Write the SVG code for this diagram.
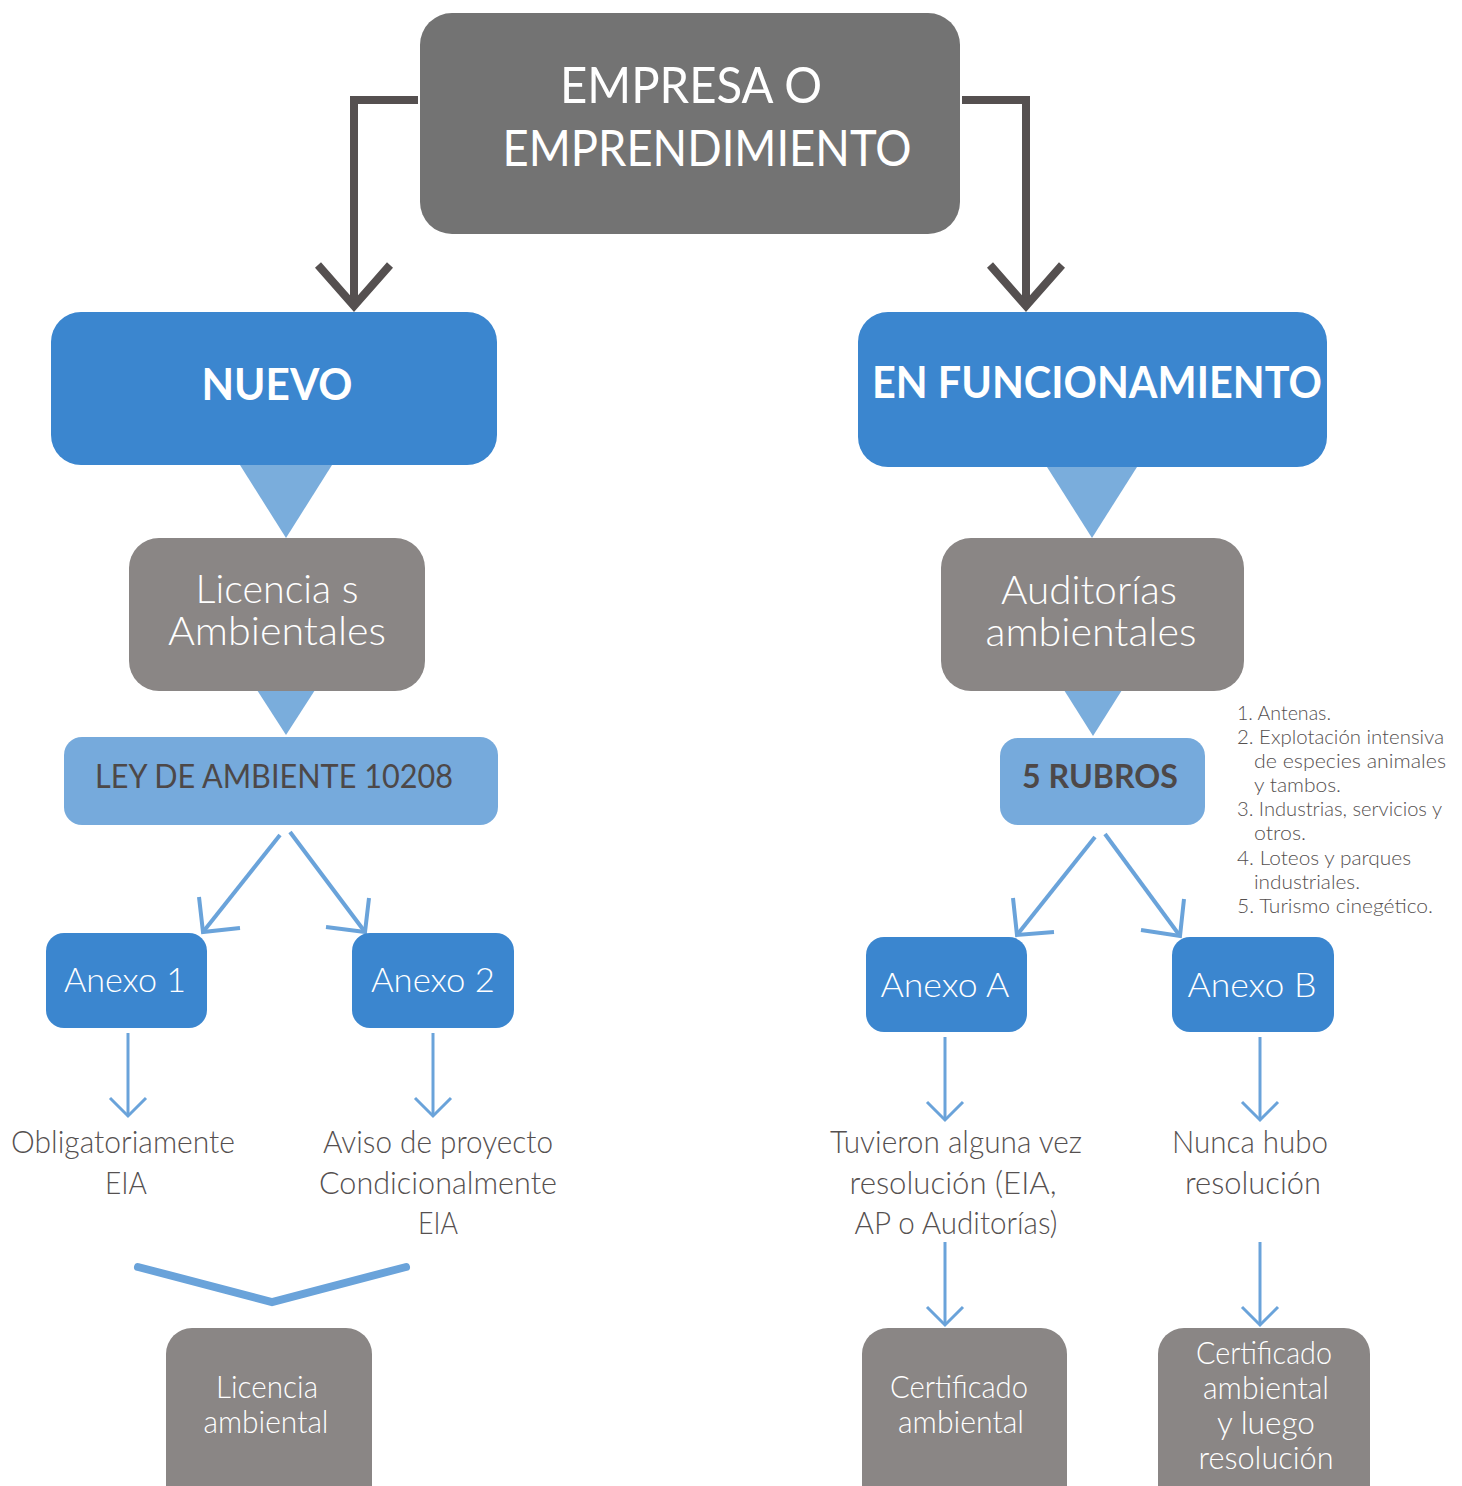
<svg xmlns="http://www.w3.org/2000/svg" width="1462" height="1486" viewBox="0 0 1462 1486">
<style>
.t{font-family:Lato,"Open Sans","Liberation Sans",sans-serif;}
.w{fill:#ffffff;font-weight:300;}
.b{fill:#ffffff;font-weight:700;}
.g{fill:#555050;font-weight:300;}
.d{fill:#4d4848;}
.blue{fill:#3b86cf;}
.gray{fill:#8a8685;}
.lb{fill:#76aadc;}
.tri{fill:#7aaddc;}
.dk{fill:none;stroke:#555050;stroke-width:8;}
.ln{fill:none;stroke:#6aa3da;stroke-width:4;}
.ln3{fill:none;stroke:#6aa3da;stroke-width:3;}
</style>
<rect width="1462" height="1486" fill="#ffffff"/>
<g id="connectors">
<polyline class="dk" points="418,100 354,100 354,306"/>
<polyline class="dk" points="318,265 354,306 390,265"/>
<polyline class="dk" points="962,100 1026,100 1026,306"/>
<polyline class="dk" points="990,265 1026,306 1062,265"/>
<polygon class="tri" points="240,465 332,465 286,538"/>
<polygon class="tri" points="1047,467 1137,467 1092,538"/>
<polygon class="tri" points="257,690 315,690 286,735"/>
<polygon class="tri" points="1064,690 1122,690 1093,736"/>
<line class="ln" x1="280" y1="835" x2="203" y2="932"/>
<polyline class="ln" points="199,897 203,932 240,928"/>
<line class="ln" x1="290" y1="832" x2="365" y2="932"/>
<polyline class="ln" points="369,898 365,932 326,927"/>
<line class="ln" x1="1095" y1="837" x2="1017" y2="935"/>
<polyline class="ln" points="1013,898 1017,935 1054,932"/>
<line class="ln" x1="1105" y1="834" x2="1180" y2="936"/>
<polyline class="ln" points="1184,899 1180,936 1141,930"/>
<line class="ln3" x1="128" y1="1033" x2="128" y2="1116"/>
<polyline class="ln3" points="110,1098 128,1116 146,1098"/>
<line class="ln3" x1="433" y1="1033" x2="433" y2="1116"/>
<polyline class="ln3" points="415,1098 433,1116 451,1098"/>
<line class="ln3" x1="945" y1="1037" x2="945" y2="1120"/>
<polyline class="ln3" points="927,1102 945,1120 963,1102"/>
<line class="ln3" x1="1260" y1="1037" x2="1260" y2="1120"/>
<polyline class="ln3" points="1242,1102 1260,1120 1278,1102"/>
<line class="ln3" x1="945" y1="1242" x2="945" y2="1325"/>
<polyline class="ln3" points="927,1307 945,1325 963,1307"/>
<line class="ln3" x1="1260" y1="1242" x2="1260" y2="1325"/>
<polyline class="ln3" points="1242,1307 1260,1325 1278,1307"/>
<polyline points="138,1267 272,1302 406,1267" fill="none" stroke="#6aa3da" stroke-width="8" stroke-linecap="round"/>
</g>
<g id="empresa">
<rect x="420" y="13" width="540" height="221" rx="32" fill="#737373"/>
<text class="t w" x="691" y="103" font-size="50" text-anchor="middle" textLength="262" lengthAdjust="spacingAndGlyphs" style="font-weight:400">EMPRESA O</text>
<text class="t w" x="707" y="166" font-size="50" text-anchor="middle" textLength="409" lengthAdjust="spacingAndGlyphs" style="font-weight:400">EMPRENDIMIENTO</text>
</g>
<g id="nuevo">
<rect class="blue" x="51" y="312" width="446" height="153" rx="30"/>
<text class="t b" x="277" y="400" font-size="44" text-anchor="middle" textLength="151" lengthAdjust="spacingAndGlyphs">NUEVO</text>
</g>
<g id="funcionamiento">
<rect class="blue" x="858" y="312" width="469" height="155" rx="30"/>
<text class="t b" x="1097" y="398" font-size="44" text-anchor="middle" textLength="450" lengthAdjust="spacingAndGlyphs">EN FUNCIONAMIENTO</text>
</g>
<g id="licencias">
<rect class="gray" x="129" y="538" width="296" height="153" rx="30"/>
<text class="t w" x="277" y="603" font-size="39" text-anchor="middle" textLength="163" lengthAdjust="spacingAndGlyphs">Licencia s</text>
<text class="t w" x="277" y="645" font-size="39" text-anchor="middle" textLength="218" lengthAdjust="spacingAndGlyphs">Ambientales</text>
</g>
<g id="auditorias">
<rect class="gray" x="941" y="538" width="303" height="153" rx="30"/>
<text class="t w" x="1089" y="604" font-size="39" text-anchor="middle" textLength="176" lengthAdjust="spacingAndGlyphs">Auditorías</text>
<text class="t w" x="1091" y="646" font-size="39" text-anchor="middle" textLength="211" lengthAdjust="spacingAndGlyphs">ambientales</text>
</g>
<g id="ley">
<rect class="lb" x="64" y="737" width="434" height="88" rx="18"/>
<text class="t d" x="274" y="788" font-size="33" text-anchor="middle" textLength="358" lengthAdjust="spacingAndGlyphs">LEY DE AMBIENTE 10208</text>
</g>
<g id="rubros">
<rect class="lb" x="1000" y="738" width="205" height="87" rx="18"/>
<text class="t d" x="1100" y="788" font-size="33" text-anchor="middle" font-weight="700" textLength="156" lengthAdjust="spacingAndGlyphs">5 RUBROS</text>
</g>
<g id="lista" class="t g" font-size="20">
<text x="1237" y="720" textLength="94" lengthAdjust="spacingAndGlyphs">1. Antenas.</text>
<text x="1237" y="744" textLength="207" lengthAdjust="spacingAndGlyphs">2. Explotación intensiva</text>
<text x="1254" y="768" textLength="192" lengthAdjust="spacingAndGlyphs">de especies animales</text>
<text x="1254" y="792" textLength="87" lengthAdjust="spacingAndGlyphs">y tambos.</text>
<text x="1237" y="816" textLength="205" lengthAdjust="spacingAndGlyphs">3. Industrias, servicios y</text>
<text x="1254" y="840" textLength="52" lengthAdjust="spacingAndGlyphs">otros.</text>
<text x="1237" y="865" textLength="174" lengthAdjust="spacingAndGlyphs">4. Loteos y parques</text>
<text x="1254" y="889" textLength="106" lengthAdjust="spacingAndGlyphs">industriales.</text>
<text x="1237" y="913" textLength="196" lengthAdjust="spacingAndGlyphs">5. Turismo cinegético.</text>
</g>
<g id="anexo1">
<rect class="blue" x="46" y="933" width="161" height="95" rx="18"/>
<text class="t w" x="125" y="992" font-size="34" text-anchor="middle" textLength="122" lengthAdjust="spacingAndGlyphs">Anexo 1</text>
</g>
<g id="anexo2">
<rect class="blue" x="352" y="933" width="162" height="95" rx="18"/>
<text class="t w" x="433" y="992" font-size="34" text-anchor="middle" textLength="124" lengthAdjust="spacingAndGlyphs">Anexo 2</text>
</g>
<g id="anexoA">
<rect class="blue" x="866" y="937" width="161" height="95" rx="18"/>
<text class="t w" x="945" y="997" font-size="34" text-anchor="middle" textLength="129" lengthAdjust="spacingAndGlyphs">Anexo A</text>
</g>
<g id="anexoB">
<rect class="blue" x="1172" y="937" width="162" height="95" rx="18"/>
<text class="t w" x="1252" y="997" font-size="34" text-anchor="middle" textLength="129" lengthAdjust="spacingAndGlyphs">Anexo B</text>
</g>
<g id="obligatoriamente" class="t g" font-size="32" text-anchor="middle">
<text x="123" y="1153" textLength="224" lengthAdjust="spacingAndGlyphs">Obligatoriamente</text>
<text x="126" y="1194" textLength="42" lengthAdjust="spacingAndGlyphs">EIA</text>
</g>
<g id="aviso" class="t g" font-size="32" text-anchor="middle">
<text x="438" y="1153" textLength="230" lengthAdjust="spacingAndGlyphs">Aviso de proyecto</text>
<text x="438" y="1194" textLength="238" lengthAdjust="spacingAndGlyphs">Condicionalmente</text>
<text x="438" y="1234" textLength="40" lengthAdjust="spacingAndGlyphs">EIA</text>
</g>
<g id="tuvieron" class="t g" font-size="32" text-anchor="middle">
<text x="956" y="1153" textLength="252" lengthAdjust="spacingAndGlyphs">Tuvieron alguna vez</text>
<text x="953" y="1194" textLength="207" lengthAdjust="spacingAndGlyphs">resolución (EIA,</text>
<text x="956" y="1234" textLength="203" lengthAdjust="spacingAndGlyphs">AP o Auditorías)</text>
</g>
<g id="nunca" class="t g" font-size="32" text-anchor="middle">
<text x="1250" y="1153" textLength="156" lengthAdjust="spacingAndGlyphs">Nunca hubo</text>
<text x="1253" y="1194" textLength="136" lengthAdjust="spacingAndGlyphs">resolución</text>
</g>
<g id="licencia-ambiental">
<rect class="gray" x="166" y="1328" width="206" height="190" rx="26"/>
<text class="t w" x="267" y="1398" font-size="31" text-anchor="middle" textLength="102" lengthAdjust="spacingAndGlyphs">Licencia</text>
<text class="t w" x="266" y="1433" font-size="31" text-anchor="middle" textLength="125" lengthAdjust="spacingAndGlyphs">ambiental</text>
</g>
<g id="certificado-ambiental">
<rect class="gray" x="862" y="1328" width="205" height="190" rx="26"/>
<text class="t w" x="959" y="1398" font-size="31" text-anchor="middle" textLength="138" lengthAdjust="spacingAndGlyphs">Certificado</text>
<text class="t w" x="961" y="1433" font-size="31" text-anchor="middle" textLength="126" lengthAdjust="spacingAndGlyphs">ambiental</text>
</g>
<g id="certificado-resolucion">
<rect class="gray" x="1158" y="1328" width="212" height="190" rx="26"/>
<text class="t w" x="1264" y="1364" font-size="31" text-anchor="middle" textLength="136" lengthAdjust="spacingAndGlyphs">Certificado</text>
<text class="t w" x="1266" y="1399" font-size="31" text-anchor="middle" textLength="126" lengthAdjust="spacingAndGlyphs">ambiental</text>
<text class="t w" x="1266" y="1434" font-size="31" text-anchor="middle" textLength="98" lengthAdjust="spacingAndGlyphs">y luego</text>
<text class="t w" x="1266" y="1469" font-size="31" text-anchor="middle" textLength="135" lengthAdjust="spacingAndGlyphs">resolución</text>
</g>
</svg>
